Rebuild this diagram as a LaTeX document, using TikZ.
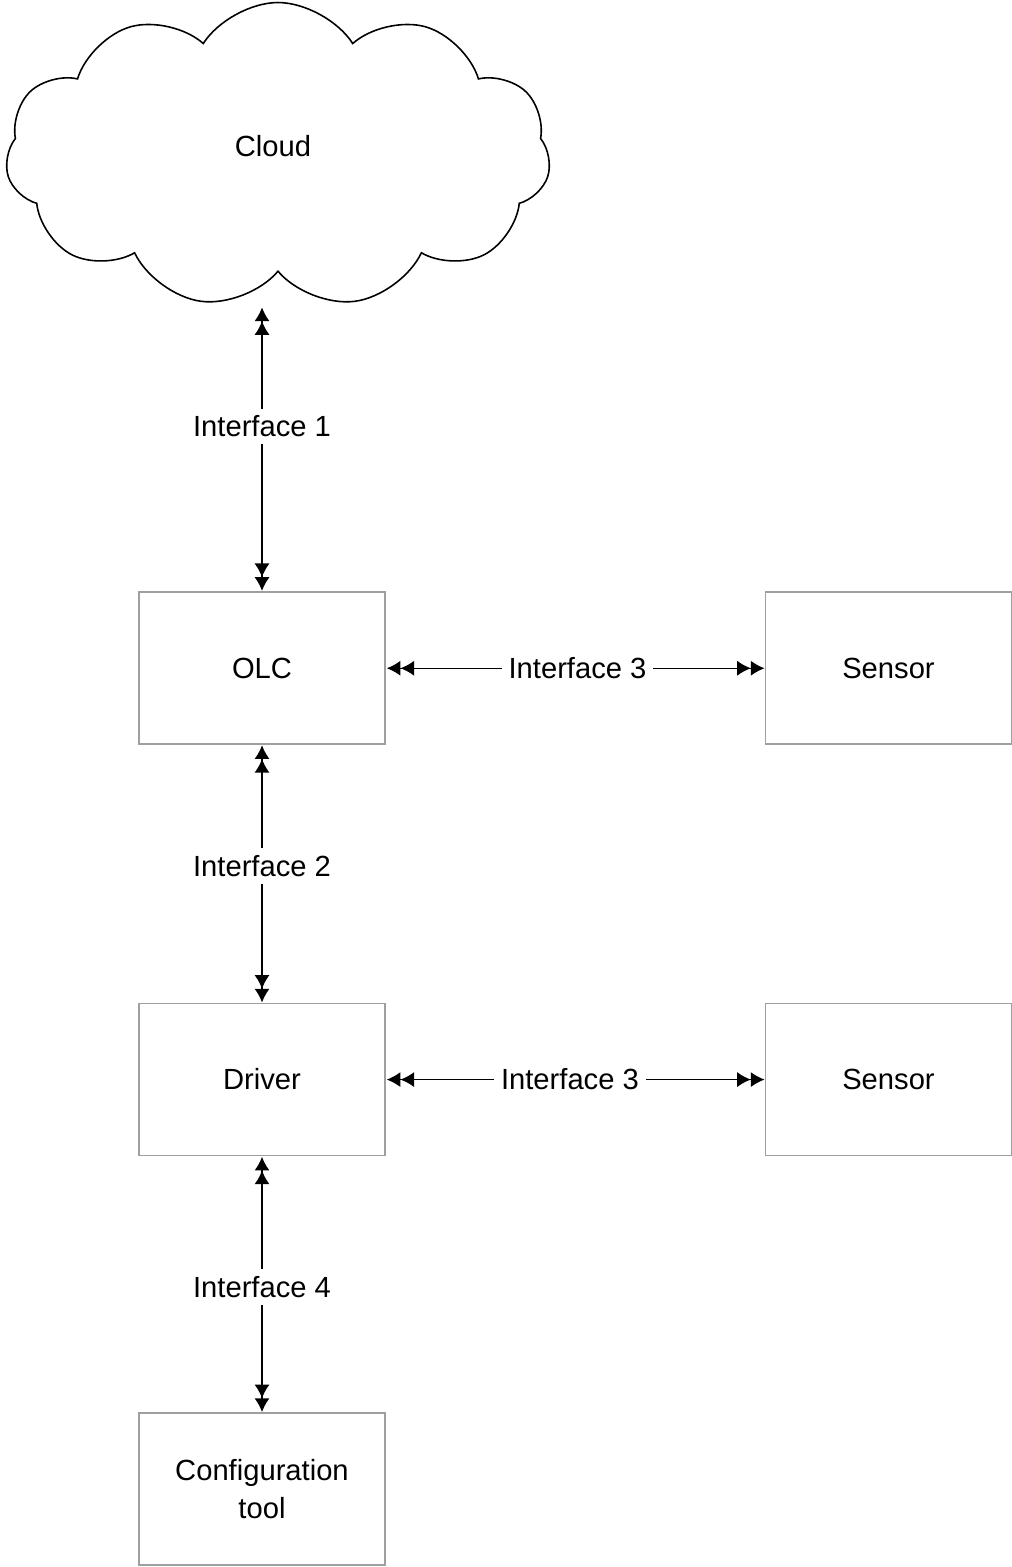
\documentclass[tikz,border=0pt]{standalone}
\usepackage{fontspec}
\setmainfont{Liberation Sans}
\usetikzlibrary{arrows.meta,shapes.symbols}
\begin{document}
\begin{tikzpicture}[scale=0.1, every node/.style={font=\fontsize{8.3}{10}\selectfont}]
\tikzstyle{block}=[draw=gray!75, line width=0.4pt, minimum width=24.6mm, minimum height=15.2mm, inner sep=0pt, align=center]
\tikzstyle{link}=[{Latex[length=3.9pt,width=4.3pt]Latex[length=3.9pt,width=4.3pt]}-{Latex[length=3.9pt,width=4.3pt]Latex[length=3.9pt,width=4.3pt]}, line width=0.4pt]
\tikzstyle{lbl}=[fill=white, inner sep=2pt]
\useasboundingbox (0,0) rectangle (101.2,-156.7);
\node [draw, cloud, cloud puffs=11, cloud puff arc=115, aspect=1.8, minimum width=54.5mm, minimum height=30.5mm, line width=0.45pt, inner sep=0pt] (cloud) at (27.8,-15.5) {};
\node (cloudtxt) at (27.3,-14.6) {Cloud};
\node [block] (olc) at (26.2,-66.8) {OLC};
\node [block] (sens1) at (88.85,-66.8) {Sensor};
\node [block] (drv) at (26.2,-107.95) {Driver};
\node [block] (sens2) at (88.85,-107.95) {Sensor};
\node [block] (cfg) at (26.2,-148.9) {Configuration\\[1pt]tool};
\coordinate (cloudbot) at (26.2,-30.7);
% vertical links
\draw [link] ([yshift=-0.4mm]cloudbot) -- node[lbl, pos=0.42] {Interface 1} ([yshift=0.5mm]olc.north);
\draw [link] ([yshift=-0.5mm]olc.south) -- node[lbl, pos=0.47] {Interface 2} ([yshift=0.4mm]drv.north);
\draw [link] ([yshift=-0.5mm]drv.south) -- node[lbl, pos=0.51] {Interface 4} ([yshift=0.4mm]cfg.north);
% horizontal links
\draw [link] ([xshift=1mm,yshift=-0.2mm]olc.east) -- node[lbl, pos=0.505] {Interface 3} ([xshift=-0.3mm,yshift=-0.2mm]sens1.west);
\draw [link] ([xshift=1mm]drv.east) -- node[lbl, pos=0.485] {Interface 3} ([xshift=-0.3mm]sens2.west);
\end{tikzpicture}
\end{document}
